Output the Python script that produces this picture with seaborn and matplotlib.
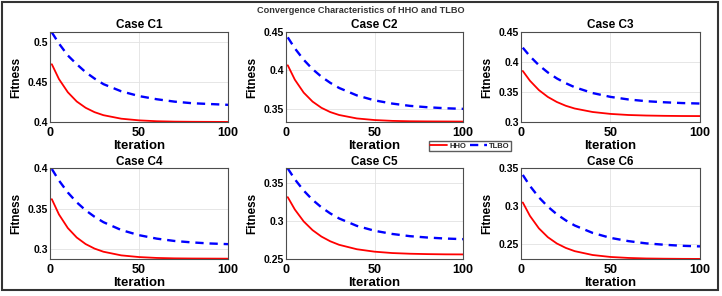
import numpy as np
import pandas as pd
import matplotlib
matplotlib.use("Agg")
import matplotlib.pyplot as plt
import seaborn as sns
from matplotlib.patches import Rectangle

iterations = [1, 5, 10, 15, 20, 25, 30, 40, 50, 60, 70, 80, 90, 100]

cases = ["Case C1", "Case C2", "Case C3", "Case C4", "Case C5", "Case C6"]

hho_c1 = [0.472, 0.4534, 0.4368, 0.4252, 0.4173, 0.4118, 0.4080, 0.4036, 0.4015, 0.4004, 0.3999, 0.3997, 0.3996, 0.3995]
hho_c2 = [0.4065, 0.3877, 0.3708, 0.3591, 0.3510, 0.3454, 0.3416, 0.3371, 0.3350, 0.3339, 0.3334, 0.3332, 0.3331, 0.3330]
hho_c3 = [0.385, 0.3687, 0.3531, 0.3417, 0.3333, 0.3270, 0.3224, 0.3166, 0.3134, 0.3116, 0.3107, 0.3102, 0.3099, 0.3098]
hho_c4 = [0.3616, 0.3427, 0.3258, 0.3141, 0.3060, 0.3004, 0.2965, 0.2920, 0.2899, 0.2888, 0.2883, 0.2881, 0.2880, 0.2879]
hho_c5 = [0.331, 0.3148, 0.2992, 0.2878, 0.2794, 0.2732, 0.2686, 0.2628, 0.2596, 0.2578, 0.2569, 0.2564, 0.2561, 0.2560]
hho_c6 = [0.3045, 0.2867, 0.2702, 0.2585, 0.2502, 0.2443, 0.2400, 0.2349, 0.2323, 0.2310, 0.2303, 0.2300, 0.2298, 0.2297]

tlbo_c1 = [0.512, 0.498, 0.483, 0.472, 0.462, 0.454, 0.447, 0.438, 0.432, 0.428, 0.425, 0.423, 0.422, 0.421]
tlbo_c2 = [0.443, 0.4286, 0.4137, 0.4015, 0.3916, 0.3836, 0.3769, 0.3672, 0.3607, 0.3565, 0.3535, 0.3517, 0.3504, 0.3496]
tlbo_c3 = [0.4238, 0.4095, 0.3946, 0.3825, 0.3726, 0.3646, 0.3579, 0.3482, 0.3418, 0.3375, 0.3346, 0.3328, 0.3315, 0.3307]
tlbo_c4 = [0.399, 0.3847, 0.3698, 0.3577, 0.3478, 0.3398, 0.3331, 0.3234, 0.3170, 0.3127, 0.3098, 0.3080, 0.3067, 0.3059]
tlbo_c5 = [0.3686, 0.3544, 0.3396, 0.3275, 0.3177, 0.3097, 0.3031, 0.2934, 0.2870, 0.2828, 0.2799, 0.2781, 0.2768, 0.2760]
tlbo_c6 = [0.341, 0.3264, 0.3113, 0.2990, 0.2889, 0.2808, 0.2740, 0.2642, 0.2576, 0.2533, 0.2503, 0.2485, 0.2471, 0.2463]

hho = [hho_c1, hho_c2, hho_c3, hho_c4, hho_c5, hho_c6]
tlbo = [tlbo_c1, tlbo_c2, tlbo_c3, tlbo_c4, tlbo_c5, tlbo_c6]

y_limits = [(0.3995, 0.5125), (0.3325, 0.45), (0.30, 0.45),
            (0.2875, 0.40), (0.25, 0.369), (0.2296, 0.35)]
y_ticks = [[0.4, 0.45, 0.5], [0.35, 0.4, 0.45], [0.3, 0.35, 0.4, 0.45],
           [0.3, 0.35, 0.4], [0.25, 0.3, 0.35], [0.25, 0.3, 0.35]]
y_ticklabels = [["0.4", "0.45", "0.5"], ["0.35", "0.4", "0.45"],
                ["0.3", "0.35", "0.4", "0.45"], ["0.3", "0.35", "0.4"],
                ["0.25", "0.3", "0.35"], ["0.25", "0.3", "0.35"]]

rows = []
for case, h, t in zip(cases, hho, tlbo):
    for it, hv, tv in zip(iterations, h, t):
        rows.append({"case": case, "Iteration": it, "Fitness": hv, "Algorithm": "HHO"})
        rows.append({"case": case, "Iteration": it, "Fitness": tv, "Algorithm": "TLBO"})
df = pd.DataFrame(rows)

sns.set_theme(style="whitegrid")
plt.rcParams["font.family"] = ["Liberation Sans", "DejaVu Sans"]
plt.rcParams["font.weight"] = "bold"

fig = plt.figure(figsize=(7.22, 2.96), dpi=100)

# axes boxes in figure fractions
positions = [
    (0.0693, 0.588, 0.2465, 0.304),
    (0.3961, 0.588, 0.2452, 0.304),
    (0.7216, 0.588, 0.2479, 0.304),
    (0.0693, 0.125, 0.2465, 0.307),
    (0.3961, 0.125, 0.2452, 0.307),
    (0.7216, 0.125, 0.2479, 0.307),
]

palette = {"HHO": "#ff0000", "TLBO": "#0000ff"}

for i, case in enumerate(cases):
    ax = fig.add_axes(positions[i])
    sub = df[df["case"] == case]
    sns.lineplot(data=sub[sub["Algorithm"] == "HHO"], x="Iteration", y="Fitness",
                 color=palette["HHO"], linewidth=1.3, ax=ax, label="HHO")
    sns.lineplot(data=sub[sub["Algorithm"] == "TLBO"], x="Iteration", y="Fitness",
                 color=palette["TLBO"], linewidth=1.7, linestyle=(0, (3.5, 2.5)), ax=ax, label="TLBO")
    ax.get_legend().remove()
    ax.set_xlim(0, 100)
    ax.set_ylim(*y_limits[i])
    ax.set_xticks([0, 50, 100])
    ax.set_xticklabels(["0", "50", "100"])
    ax.set_yticks(y_ticks[i])
    ax.set_yticklabels(y_ticklabels[i])
    ax.tick_params(axis="x", labelsize=9, pad=3.5, length=0, colors="black")
    ax.tick_params(axis="y", labelsize=7.5, pad=1.5, length=0, colors="black")
    for lab in ax.get_xticklabels() + ax.get_yticklabels():
        lab.set_fontweight("bold")
    ax.set_title(case, fontsize=8.5, fontweight="bold", pad=2.5, color="black")
    ax.set_xlabel("Iteration", fontsize=9.5, fontweight="bold", labelpad=0.5, color="black")
    ax.set_ylabel("Fitness", fontsize=8.5, fontweight="bold", labelpad=4, color="black")
    ax.grid(True, color="#e2e2e2", linewidth=0.6)
    for sp in ax.spines.values():
        sp.set_color("#4d4d4d")
        sp.set_linewidth(0.8)

handles, labels = ax.get_legend_handles_labels()
fig.legend(handles, labels, loc="center", bbox_to_anchor=(0.651, 0.507), ncol=2,
           frameon=True, fancybox=False, edgecolor="#333333",
           handlelength=2.2, columnspacing=0.5, handletextpad=0.3,
           borderpad=0.2, prop={"weight": "bold", "size": 5.5})

fig.text(0.5, 0.966, "Convergence Characteristics of HHO and TLBO",
         ha="center", va="center", fontsize=6.6, fontweight="bold", color="#333333")

fig.patches.append(Rectangle((0.003, 0.02), 0.991, 0.973, transform=fig.transFigure,
                             fill=False, edgecolor="#333333", linewidth=1.5))

fig.savefig("out.png", dpi=100)
